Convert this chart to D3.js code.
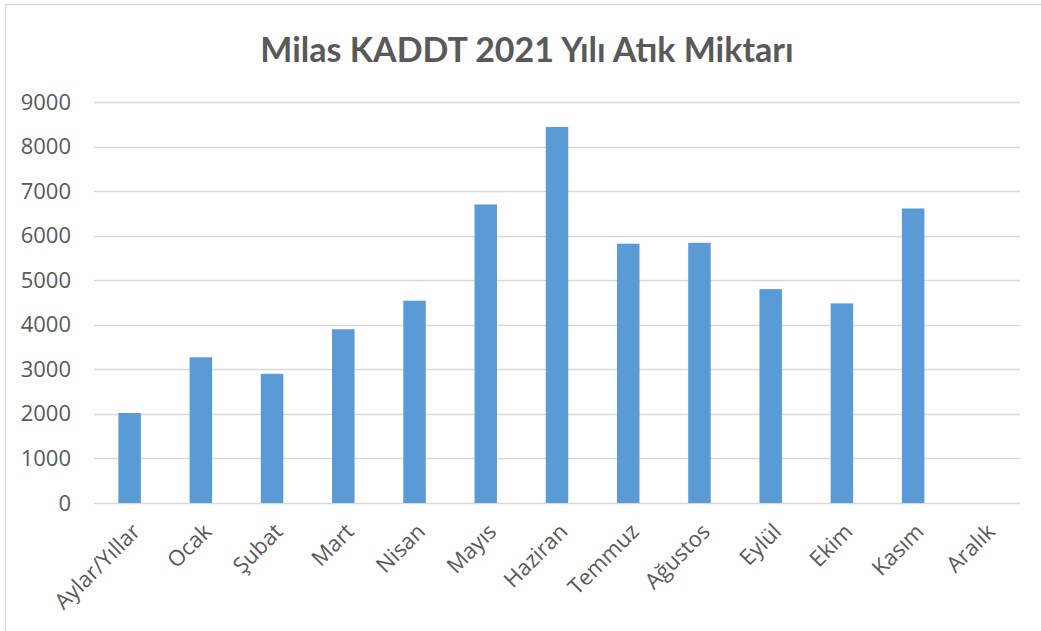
<!DOCTYPE html>
<html>
<head>
<meta charset="utf-8">
<script src="https://cdn.jsdelivr.net/npm/d3@7"></script>
<style>
  body { margin: 0; background: #fff; }
  svg text { fill: #595959; }
</style>
</head>
<body>
<script>
// Veriler
const baslik = "Milas KADDT 2021 Yılı Atık Miktarı";
const aylar = ["Aylar/Yıllar", "Ocak", "Şubat", "Mart", "Nisan", "Mayıs", "Haziran",
               "Temmuz", "Ağustos", "Eylül", "Ekim", "Kasım", "Aralık"];
const miktar = [2020, 3270, 2900, 3900, 4540, 6700, 8440, 5820, 5840, 4800, 4480, 6610, null];
const yTikler = [0, 1000, 2000, 3000, 4000, 5000, 6000, 7000, 8000, 9000];

// Ayarlar
const width = 1041;
const height = 631;
const margin = { left: 94, right: 21, top: 102, bottom: 128 };

const svg = d3.select("body")
    .append("svg")
    .attr("width", width)
    .attr("height", height);

// çerçeve
svg.append("rect")
    .attr("x", 5.5).attr("y", 4.5)
    .attr("width", width + 10).attr("height", height + 10)
    .attr("fill", "none")
    .attr("stroke", "#d9d9d9")
    .attr("stroke-width", 1.5);

// başlık
svg.append("text")
    .attr("x", 527)
    .attr("y", 62)
    .attr("text-anchor", "middle")
    .style("font-family", "Lato, 'Open Sans', sans-serif")
    .style("font-weight", "bold")
    .style("font-size", "34px")
    .text(baslik);

const xScale = d3.scaleBand()
    .domain(aylar)
    .range([margin.left, width - margin.right])
    .paddingInner(0.684)
    .paddingOuter(0.342);

const yScale = d3.scaleLinear()
    .domain([0, 9000])
    .range([height - margin.bottom, margin.top]);

// izgara çizgileri
svg.append("g")
    .selectAll("line")
    .data(yTikler)
    .enter()
    .append("line")
    .attr("x1", margin.left)
    .attr("x2", width - margin.right)
    .attr("y1", d => Math.round(yScale(d)) + 0.5)
    .attr("y2", d => Math.round(yScale(d)) + 0.5)
    .attr("stroke", "#d9d9d9")
    .attr("stroke-width", 1.5);

// y ekseni
const ejeY = d3.axisLeft(yScale)
    .tickValues(yTikler)
    .tickFormat(d3.format("d"))
    .tickSize(0)
    .tickPadding(23);

const gy = svg.append("g")
    .attr("transform", "translate(" + margin.left + ",0)")
    .call(ejeY);
gy.select(".domain").remove();
gy.selectAll("text")
    .style("font-family", "'Open Sans', sans-serif")
    .style("font-size", "22px")
    .attr("fill", "#595959");

// çubuklar
svg.append("g")
    .selectAll("rect")
    .data(aylar.map((a, i) => ({ ay: a, deger: miktar[i] })).filter(d => d.deger != null))
    .enter()
    .append("rect")
    .attr("x", d => xScale(d.ay))
    .attr("y", d => yScale(d.deger))
    .attr("width", xScale.bandwidth())
    .attr("height", d => yScale(0) - yScale(d.deger))
    .attr("fill", "#5b9bd5");

// x ekseni
const ejeX = d3.axisBottom(xScale).tickSize(0).tickPadding(0);
const gx = svg.append("g")
    .attr("transform", "translate(0," + (height - margin.bottom) + ")")
    .call(ejeX);
gx.select(".domain").remove();
gx.selectAll("text")
    .style("font-family", "'Open Sans', sans-serif")
    .style("font-size", "22px")
    .attr("fill", "#595959")
    .style("text-anchor", "end")
    .attr("dy", "0")
    .attr("transform", "translate(12,30) rotate(-45)");
</script>
</body>
</html>
